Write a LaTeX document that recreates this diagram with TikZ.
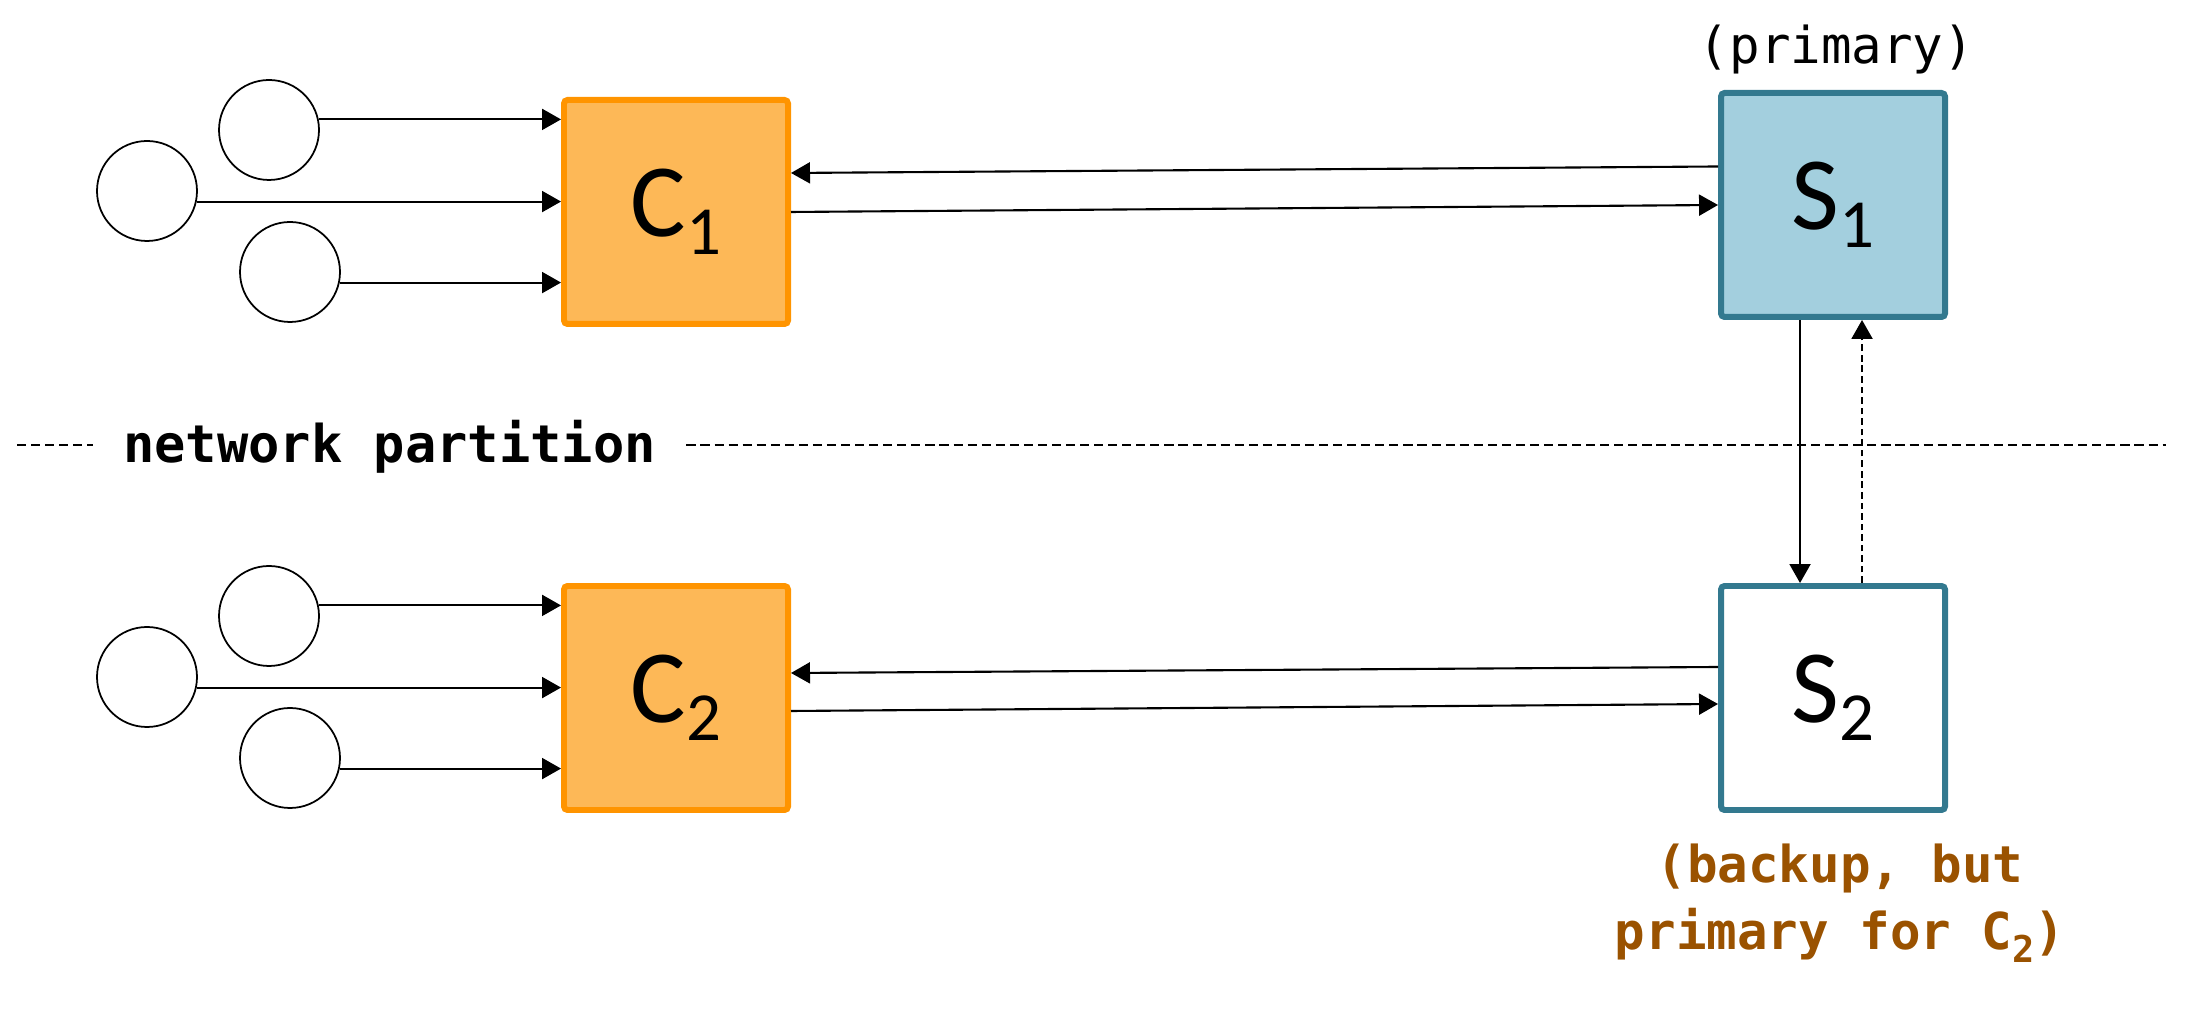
\documentclass[tikz,border=0pt]{standalone}
\usepackage{fontspec}
\setmonofont{DejaVu Sans Mono}
\newfontfamily\boxfont{Carlito}
\usetikzlibrary{arrows.meta,calc,positioning}
\definecolor{ClientOrange}{HTML}{FDB857}
\definecolor{ClientEdge}{HTML}{FF9400}
\definecolor{ServerBlue}{HTML}{A3CFDE}
\definecolor{ServerEdge}{HTML}{33798F}
\definecolor{NoteBrown}{HTML}{9A5200}
\newcommand{\boxidx}[1]{\raisebox{-0.18cm}{\fontsize{19.6}{20}\selectfont #1}}
\newcommand{\noteidx}[1]{\raisebox{-0.13cm}{\fontsize{10.5}{11}\selectfont #1}}

\begin{document}
\begin{tikzpicture}[
      >={Triangle[length=1.9mm,width=2.1mm]},
      box/.style={line width=1.7pt,minimum width=2.24cm,minimum height=2.24cm,inner sep=0pt,rounded corners=1pt,font=\boxfont\fontsize{29.6}{30}\selectfont},
      client/.style={box,draw=ClientEdge,fill=ClientOrange},
      server/.style={box,draw=ServerEdge,fill=white},
      user/.style={circle,draw,line width=0.5pt,minimum size=1cm,inner sep=0pt},
      arr/.style={->,line width=0.6pt},
      mono/.style={font=\ttfamily\fontsize{14.45}{19.3}\selectfont,inner sep=0pt},
      cut/.style={line width=0.75pt,dash pattern=on 2.6pt off 1.4pt}
    ]
      \useasboundingbox (0,0) rectangle (21.98,10.08);
      \node[client] (C1) at (6.76,7.96) {C\boxidx{1}};
      \node[client] (C2) at (6.76,3.10) {C\boxidx{2}};
      \node[server,fill=ServerBlue] (S1) at (18.33,8.03) {S\boxidx{1}};
      \node[server] (S2) at (18.33,3.10) {S\boxidx{2}};
      \node[user] (u1) at (2.69,8.78) {};
      \node[user] (u2) at (1.47,8.17) {};
      \node[user] (u3) at (2.90,7.36) {};
      \node[user] (u4) at (2.69,3.92) {};
      \node[user] (u5) at (1.47,3.31) {};
      \node[user] (u6) at (2.90,2.50) {};
      \node[mono,anchor=base] (primLbl) at (18.365,9.44) {(primary)};
      \node[mono,font=\ttfamily\bfseries\fontsize{14.45}{19.3}\selectfont,text=NoteBrown,align=center,anchor=base] (backLbl) at (18.40,0.58) {(backup, but\\primary for C\noteidx{2})};
      \node[mono,font=\ttfamily\bfseries\fontsize{14.8}{18}\selectfont,inner xsep=0.3cm,anchor=base] (part) at (3.895,5.45) {network partition};
      \coordinate (partL) at (0.17,5.63);
      \coordinate (partR) at (21.66,5.63);
      \draw[cut] (partL) -- (partL -| part.west);
      \draw[cut] (partR -| part.east) -- (partR);
      \draw[arr] (u1.12) -- (u1.12 -| C1.west);
      \draw[arr] (u2.-12) -- (u2.-12 -| C1.west);
      \draw[arr] (u3.-12) -- (u3.-12 -| C1.west);
      \draw[arr] (u4.12) -- (u4.12 -| C2.west);
      \draw[arr] (u5.-12) -- (u5.-12 -| C2.west);
      \draw[arr] (u6.-12) -- (u6.-12 -| C2.west);
      \draw[arr] ([yshift=0.385cm]S1.west) -- ([yshift=0.39cm]C1.east);
      \draw[arr] (C1.east) -- (S1.west);
      \draw[arr] ([yshift=0.31cm]S2.west) -- ([yshift=0.25cm]C2.east);
      \draw[arr] ([yshift=-0.13cm]C2.east) -- ([yshift=-0.06cm]S2.west);
      \draw[arr] ([xshift=-0.33cm]S1.south) -- ([xshift=-0.33cm]S2.north);
      \draw[arr,dash pattern=on 1.9pt off 1.1pt] ([xshift=0.29cm]S2.north) -- ([xshift=0.29cm]S1.south);
    \end{tikzpicture}
\end{document}
